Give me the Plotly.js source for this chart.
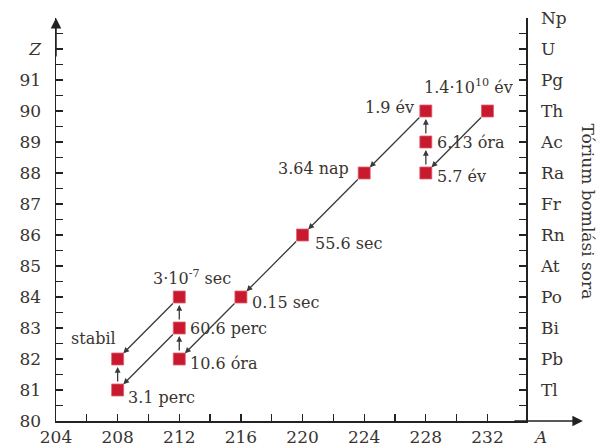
<!DOCTYPE html>
<html>
<head>
<meta charset="utf-8">
<script src="https://cdn.plot.ly/plotly-3.0.1.min.js"></script>
<style>html,body{margin:0;padding:0;background:#fff;}#chart{width:600px;height:448px;}</style>
</head>
<body>
<div id="chart"></div>
<script>
// ---- data ----
var massNumbers   = [232, 228, 228, 228, 224, 220, 216, 212, 212, 212, 208, 208];
var atomicNumbers = [90, 88, 89, 90, 88, 86, 84, 82, 83, 84, 81, 82];
var halfLives = ['1.4·10<sup>10</sup> év', '5.7 év', '6.13 óra', '1.9 év', '3.64 nap', '55.6 sec',
                 '0.15 sec', '10.6 óra', '60.6 perc', '3·10<sup>-7</sup> sec', '3.1 perc', 'stabil'];
// decay steps: [from index, to index]
var decays = [[0,1],[1,2],[2,3],[3,4],[4,5],[5,6],[6,7],[7,8],[8,9],[8,10],[9,11],[10,11]];
var xTickVals = [204, 208, 212, 216, 220, 224, 228, 232];
var xMinorVals = [206, 210, 214, 218, 222, 226, 230];
var zTickVals = [80, 81, 82, 83, 84, 85, 86, 87, 88, 89, 90, 91, 92];
var zTickText = ['80','81','82','83','84','85','86','87','88','89','90','91','<i>Z</i>'];
var elemVals = [81, 82, 83, 84, 85, 86, 87, 88, 89, 90, 91, 92, 93];
var elemNames = ['Tl','Pb','Bi','Po','At','Rn','Fr','Ra','Ac','Th','Pg','U','Np'];

// ---- label placement (style only) ----
var labelPlace = [
  {xa:'center', dx:-19, dy:25},
  {xa:'left', dx:9, dy:-3},
  {xa:'left', dx:9, dy:0},
  {xa:'right', dx:-10, dy:4},
  {xa:'right', dx:-13, dy:5},
  {xa:'left', dx:10, dy:-8},
  {xa:'left', dx:9, dy:-5},
  {xa:'left', dx:9, dy:-4},
  {xa:'left', dx:9, dy:0},
  {xa:'center', dx:13, dy:20},
  {xa:'left', dx:8, dy:-7},
  {xa:'right', dx:0, dy:21}
];

var txtColor = '#3a3430';
var fontFam = 'DejaVu Serif, Liberation Serif, serif';
var halfMinor = [];
for (var v = 80.5; v < 93; v += 1) halfMinor.push(v);

var annotations = [];
decays.forEach(function(d){
  annotations.push({
    x: massNumbers[d[1]], y: atomicNumbers[d[1]],
    ax: massNumbers[d[0]], ay: atomicNumbers[d[0]],
    xref:'x', yref:'y', axref:'x', ayref:'y',
    showarrow:true, arrowhead:2, arrowsize:0.9, arrowwidth:1.3,
    arrowcolor:'#3a3a3a', standoff:8, startstandoff:7, text:''
  });
});
halfLives.forEach(function(t, i){
  var p = labelPlace[i];
  annotations.push({
    x: massNumbers[i], y: atomicNumbers[i], xref:'x', yref:'y',
    text: t, showarrow:false, xanchor:p.xa, yanchor:'middle',
    xshift:p.dx, yshift:p.dy,
    font:{family:fontFam, size:16, color:txtColor}
  });
});
// axis arrows
annotations.push({xref:'paper', yref:'paper', x:1.121, y:0, ax:-70, ay:0, axref:'pixel', ayref:'pixel',
  showarrow:true, arrowhead:2, arrowsize:1.4, arrowwidth:1.5, arrowcolor:'#222', text:''});
annotations.push({xref:'paper', yref:'paper', x:0, y:1.0, ax:0, ay:40, axref:'pixel', ayref:'pixel',
  showarrow:true, arrowhead:2, arrowsize:1.4, arrowwidth:1.5, arrowcolor:'#222', text:''});
annotations.push({xref:'paper', yref:'paper', x:1.03, y:0, xanchor:'center', yanchor:'top', yshift:-4,
  text:'<i>A</i>', showarrow:false, font:{family:fontFam, size:17, color:txtColor}});
annotations.push({xref:'paper', yref:'paper', x:1.132, y:0.52, xanchor:'center', yanchor:'middle',
  textangle:90, text:'Tórium bomlási sora', showarrow:false, font:{family:fontFam, size:17, color:txtColor}});

var trace = {
  x: massNumbers, y: atomicNumbers, type:'scatter', mode:'markers',
  marker:{symbol:'square', size:12, color:'#c8192f', line:{color:'#e06070', width:0.8}},
  hoverinfo:'skip', showlegend:false
};
var dummy = {x:[massNumbers[0]], y:[atomicNumbers[0]], yaxis:'y2', type:'scatter', mode:'markers',
  marker:{opacity:0}, hoverinfo:'skip', showlegend:false};

var layout = {
  width:600, height:448,
  margin:{l:56, r:74, t:18, b:27},
  paper_bgcolor:'#fff', plot_bgcolor:'#fff',
  showlegend:false,
  xaxis:{
    range:[204, 234.5], tickmode:'array', tickvals:xTickVals, ticktext:xTickVals.map(String),
    ticks:'inside', ticklen:7, tickwidth:1.3, tickcolor:'#222',
    minor:{tickmode:'array', tickvals:xMinorVals, ticks:'inside', ticklen:7, tickwidth:1.3, tickcolor:'#222'},
    showline:true, linecolor:'#222', linewidth:1.5, showgrid:false, zeroline:false,
    tickfont:{family:fontFam, size:17, color:txtColor}, fixedrange:true
  },
  yaxis:{
    range:[80, 93], tickmode:'array', tickvals:zTickVals, ticktext:zTickText,
    ticks:'inside', ticklen:7, tickwidth:1.3, tickcolor:'#222',
    minor:{tickmode:'array', tickvals:halfMinor.filter(function(v){return v<92.6;}), ticks:'inside', ticklen:7, tickwidth:1.3, tickcolor:'#222'},
    showline:true, linecolor:'#222', linewidth:1.5, showgrid:false, zeroline:false,
    ticklabelstandoff:10,
    tickfont:{family:fontFam, size:17, color:txtColor}, fixedrange:true
  },
  yaxis2:{
    range:[80, 93], overlaying:'y', side:'right', anchor:'x',
    tickmode:'array', tickvals:elemVals, ticktext:elemNames,
    ticks:'inside', ticklen:7, tickwidth:1.3, tickcolor:'#222',
    minor:{tickmode:'array', tickvals:halfMinor, ticks:'inside', ticklen:7, tickwidth:1.3, tickcolor:'#222'},
    showline:true, linecolor:'#222', linewidth:1.5, showgrid:false, zeroline:false,
    ticklabelstandoff:10,
    tickfont:{family:fontFam, size:17, color:txtColor}, fixedrange:true
  },
  annotations: annotations
};
Plotly.newPlot('chart', [trace, dummy], layout, {staticPlot:true, displayModeBar:false});
</script>
</body>
</html>
